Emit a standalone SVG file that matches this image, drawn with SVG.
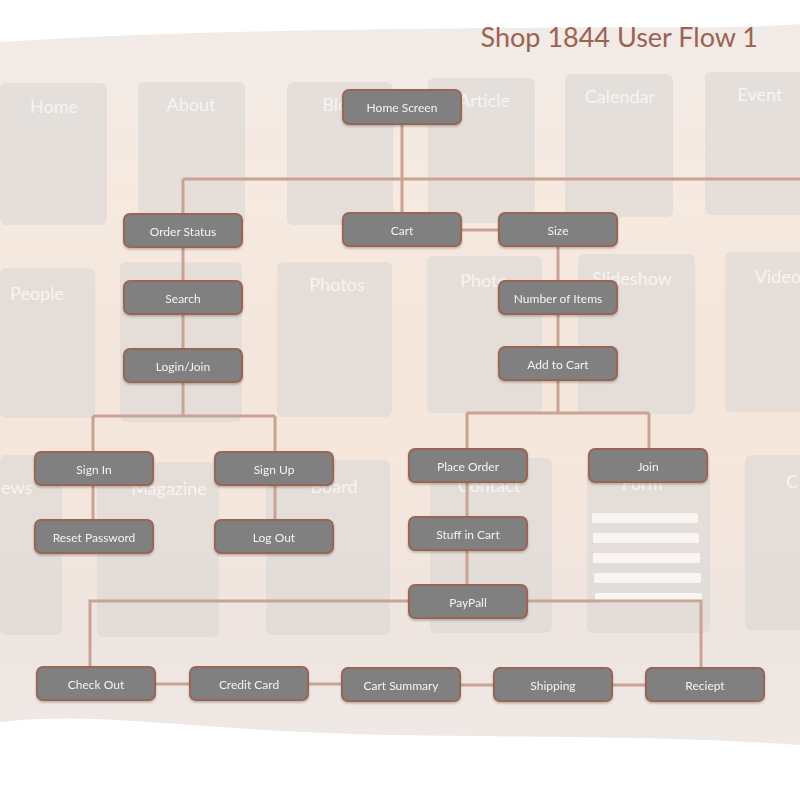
<svg xmlns="http://www.w3.org/2000/svg" width="800" height="800" viewBox="0 0 800 800">
<defs>
<linearGradient id="bg" x1="0" y1="0" x2="0" y2="1">
<stop offset="0" stop-color="#f1ebe7"/>
<stop offset="0.25" stop-color="#f6e9df"/>
<stop offset="0.45" stop-color="#f4e6dc"/>
<stop offset="0.6" stop-color="#f6e7dc"/>
<stop offset="0.85" stop-color="#eee5e0"/>
<stop offset="1" stop-color="#efe9e6"/>
</linearGradient>
<filter id="sh" x="-10%" y="-20%" width="120%" height="150%">
<feDropShadow dx="0" dy="1.5" stdDeviation="1.2" flood-color="#000" flood-opacity="0.25"/>
</filter>
<style>
.card{fill:#dcd8d6;opacity:0.65}
.ct{font-family:"Lato","Open Sans",sans-serif;font-size:18px;fill:#f7f4f2;text-anchor:middle}
.node rect{fill:#808080;stroke:#9a6552;stroke-width:2}
.node text{font-family:"Lato","Open Sans",sans-serif;font-size:12px;fill:#f3f3f3;text-anchor:middle;dominant-baseline:central}
.conn path{fill:none;stroke:#c9a393;stroke-width:3}
</style>
</defs>
<rect width="800" height="800" fill="#ffffff"/>
<path d="M0 42 C150 32 300 30 500 28 C650 26 720 30 800 24 L800 745 C650 735 550 738 400 735 C200 732 100 710 0 722 Z" fill="url(#bg)"/>
<g id="background-cards">
<rect class="card" x="0" y="83" width="107" height="142" rx="6"/><text class="ct" x="54" y="113">Home</text>
<rect class="card" x="138" y="82" width="107" height="143" rx="6"/><text class="ct" x="191" y="111">About</text>
<rect class="card" x="287" y="82" width="106" height="143" rx="6"/><text class="ct" x="340" y="111">Blog</text>
<rect class="card" x="428" y="78" width="107" height="145" rx="6"/><text class="ct" x="484" y="107">Article</text>
<rect class="card" x="565" y="74" width="108" height="143" rx="6"/><text class="ct" x="620" y="103">Calendar</text>
<rect class="card" x="705" y="72" width="100" height="143" rx="6"/><text class="ct" x="760" y="101">Event</text>
<rect class="card" x="0" y="268" width="95" height="150" rx="6"/><text class="ct" x="37" y="300">People</text>
<rect class="card" x="120" y="262" width="122" height="160" rx="6"/>
<rect class="card" x="277" y="262" width="115" height="155" rx="6"/><text class="ct" x="337" y="291">Photos</text>
<rect class="card" x="427" y="256" width="115" height="157" rx="6"/><text class="ct" x="484" y="287">Photo</text>
<rect class="card" x="578" y="254" width="117" height="160" rx="6"/><text class="ct" x="632" y="285">Slideshow</text>
<rect class="card" x="725" y="252" width="80" height="160" rx="6"/><text class="ct" x="778" y="283">Video</text>
<rect class="card" x="0" y="455" width="62" height="180" rx="6"/><text class="ct" x="1" y="494" style="text-anchor:start">ews</text>
<rect class="card" x="97" y="462" width="122" height="175" rx="6"/><text class="ct" x="169" y="495">Magazine</text>
<rect class="card" x="266" y="460" width="124" height="175" rx="6"/><text class="ct" x="334" y="493">Board</text>
<rect class="card" x="430" y="458" width="122" height="175" rx="6"/><text class="ct" x="489" y="492">Contact</text>
<rect class="card" x="587" y="455" width="123" height="178" rx="6"/><text class="ct" x="642" y="490">Form</text>
<rect class="card" x="745" y="455" width="60" height="175" rx="6"/><text class="ct" x="792" y="488">C</text>
<g fill="#fbf8f6" opacity="0.9">
<rect x="592" y="513" width="106" height="10" rx="2"/>
<rect x="593" y="533" width="106" height="10" rx="2"/>
<rect x="593" y="553" width="107" height="10" rx="2"/>
<rect x="594" y="573" width="107" height="10" rx="2"/>
<rect x="595" y="593" width="107" height="10" rx="2"/>
</g>
</g>
<text x="758" y="47" font-family="Lato,'Open Sans',sans-serif" font-size="27" fill="#9c6252" text-anchor="end">Shop 1844 User Flow 1</text>
<g id="connectors" class="conn">
<path d="M402 124V213"/>
<path d="M183 179H800"/>
<path d="M183 179V214"/>
<path d="M461 230H499"/>
<path d="M558 246V347"/>
<path d="M558 380V413"/>
<path d="M467 413H649"/>
<path d="M467 413V449"/>
<path d="M649 413V449"/>
<path d="M183 247V349"/>
<path d="M183 382V416"/>
<path d="M93 416H275"/>
<path d="M93 416V452"/>
<path d="M275 416V452"/>
<path d="M93 485V520"/>
<path d="M275 485V520"/>
<path d="M467 482V585"/>
<path d="M409 601H90V667"/>
<path d="M527 601H701V668"/>
<path d="M155 684H190"/>
<path d="M308 684H342"/>
<path d="M460 685H494"/>
<path d="M612 685H646"/>
</g>
<g id="home-screen" class="node" filter="url(#sh)"><rect x="343" y="90" width="118" height="34" rx="6"/><text x="402" y="107">Home Screen</text></g>
<g id="order-status" class="node" filter="url(#sh)"><rect x="124" y="214" width="118" height="33" rx="6"/><text x="183" y="231">Order Status</text></g>
<g id="cart" class="node" filter="url(#sh)"><rect x="343" y="213" width="118" height="33" rx="6"/><text x="402" y="230">Cart</text></g>
<g id="size" class="node" filter="url(#sh)"><rect x="499" y="213" width="118" height="33" rx="6"/><text x="558" y="230">Size</text></g>
<g id="search" class="node" filter="url(#sh)"><rect x="124" y="281" width="118" height="33" rx="6"/><text x="183" y="298">Search</text></g>
<g id="number-of-items" class="node" filter="url(#sh)"><rect x="499" y="281" width="118" height="33" rx="6"/><text x="558" y="298">Number of Items</text></g>
<g id="login-join" class="node" filter="url(#sh)"><rect x="124" y="349" width="118" height="33" rx="6"/><text x="183" y="366">Login/Join</text></g>
<g id="add-to-cart" class="node" filter="url(#sh)"><rect x="499" y="347" width="118" height="33" rx="6"/><text x="558" y="364">Add to Cart</text></g>
<g id="sign-in" class="node" filter="url(#sh)"><rect x="35" y="452" width="118" height="33" rx="6"/><text x="94" y="469">Sign In</text></g>
<g id="sign-up" class="node" filter="url(#sh)"><rect x="215" y="452" width="118" height="33" rx="6"/><text x="274" y="469">Sign Up</text></g>
<g id="place-order" class="node" filter="url(#sh)"><rect x="409" y="449" width="118" height="33" rx="6"/><text x="468" y="466">Place Order</text></g>
<g id="join" class="node" filter="url(#sh)"><rect x="589" y="449" width="118" height="33" rx="6"/><text x="648" y="466">Join</text></g>
<g id="reset-password" class="node" filter="url(#sh)"><rect x="35" y="520" width="118" height="33" rx="6"/><text x="94" y="537">Reset Password</text></g>
<g id="log-out" class="node" filter="url(#sh)"><rect x="215" y="520" width="118" height="33" rx="6"/><text x="274" y="537">Log Out</text></g>
<g id="stuff-in-cart" class="node" filter="url(#sh)"><rect x="409" y="517" width="118" height="33" rx="6"/><text x="468" y="534">Stuff in Cart</text></g>
<g id="paypall" class="node" filter="url(#sh)"><rect x="409" y="585" width="118" height="33" rx="6"/><text x="468" y="602">PayPall</text></g>
<g id="check-out" class="node" filter="url(#sh)"><rect x="37" y="667" width="118" height="33" rx="6"/><text x="96" y="684">Check Out</text></g>
<g id="credit-card" class="node" filter="url(#sh)"><rect x="190" y="667" width="118" height="33" rx="6"/><text x="249" y="684">Credit Card</text></g>
<g id="cart-summary" class="node" filter="url(#sh)"><rect x="342" y="668" width="118" height="33" rx="6"/><text x="401" y="685">Cart Summary</text></g>
<g id="shipping" class="node" filter="url(#sh)"><rect x="494" y="668" width="118" height="33" rx="6"/><text x="553" y="685">Shipping</text></g>
<g id="reciept" class="node" filter="url(#sh)"><rect x="646" y="668" width="118" height="33" rx="6"/><text x="705" y="685">Reciept</text></g>
</svg>
